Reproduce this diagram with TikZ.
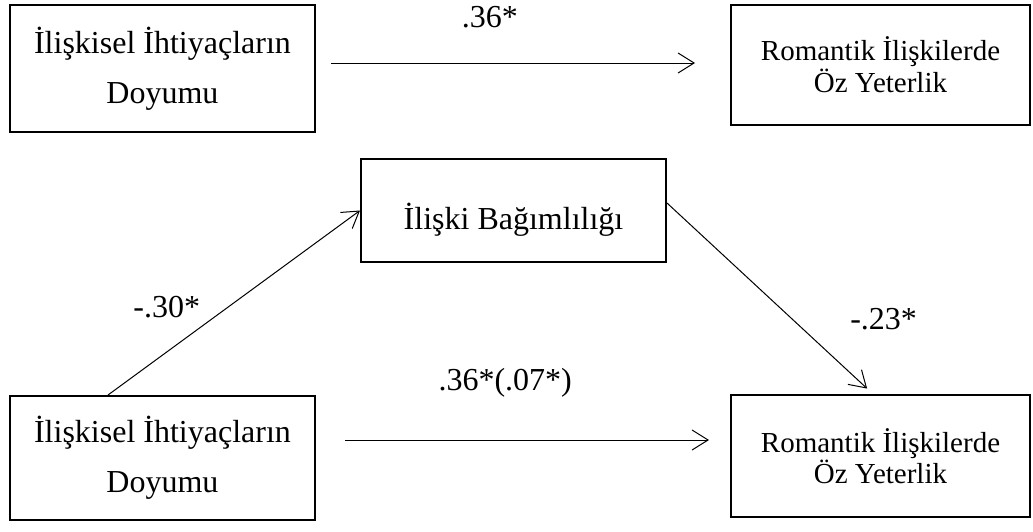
\documentclass[tikz,border=0pt]{standalone}
\usepackage{fontspec}
\setmainfont{Liberation Serif}
\usetikzlibrary{arrows.meta}

\begin{document}
\begin{tikzpicture}[x=0.5pt,y=-0.5pt,
        box/.style={draw,line width=1pt,inner sep=0pt,align=center},
        bigbox/.style={box,minimum width=152.5pt,font=\fontsize{16}{25}\selectfont,execute at begin node={\rule{0pt}{22pt}}},
        smallbox/.style={box,minimum width=149.5pt,font=\fontsize{14.5}{14}\selectfont},
        link/.style={line width=0.5pt,-{Straight Barb[length=8pt,width=10pt]}},
        coef/.style={font=\fontsize{16}{19}\selectfont}]

        % -----------
        % Parameters.
        % -----------

        % Box centres [px].
        \pgfmathsetmacro{\xLeft}{162.5}     % x-position of left boxes.
        \pgfmathsetmacro{\xMid}{513.5}      % x-position of mediator box.
        \pgfmathsetmacro{\xRight}{880.5}    % x-position of right boxes.
        \pgfmathsetmacro{\yTopLeft}{68.5}   % y-position of upper left box.
        \pgfmathsetmacro{\yTopRight}{65}    % y-position of upper right box.
        \pgfmathsetmacro{\yMid}{210.5}      % y-position of mediator box.
        \pgfmathsetmacro{\yBotLeft}{458}    % y-position of lower left box.
        \pgfmathsetmacro{\yBotRight}{456}   % y-position of lower right box.

        \useasboundingbox (0,0) rectangle (1033,531);

        % --------
        % Drawing.
        % --------

        % Total effect model.
        \node[bigbox,minimum height=63.5pt](needsTop) at (\xLeft,\yTopLeft){İlişkisel İhtiyaçların\\Doyumu};
        \node[smallbox,minimum height=60pt](efficacyTop) at (\xRight,\yTopRight){Romantik İlişkilerde\\Öz Yeterlik};

        % Mediation model.
        \node[bigbox,minimum height=51.5pt](dependence) at (\xMid,\yMid){İlişki Bağımlılığı};
        \node[bigbox,minimum height=62pt](needsBottom) at (\xLeft,\yBotLeft){İlişkisel İhtiyaçların\\Doyumu};
        \node[smallbox,minimum height=61pt](efficacyBottom) at (\xRight,\yBotRight){Romantik İlişkilerde\\Öz Yeterlik};

        % Path c.
        \coordinate (topStart) at ([yshift=2.75pt]needsTop.east);
        \draw[link,shorten <=7.5pt,shorten >=17.5pt](topStart)--(topStart -| efficacyTop.west)
            node[coef,pos=.42,yshift=23pt]{.36*};

        % Path a.
        \draw[link]([xshift=-27.25pt]needsBottom.north)--(dependence.west)
            node[coef,pos=.233,yshift=22.5pt]{-.30*};

        % Path b.
        \draw[link,shorten >=4pt]([yshift=3.75pt]dependence.east)--([xshift=-3.75pt]efficacyBottom.north)
            node[coef,pos=.61,xshift=45.5pt]{-.23*};

        % Path c'.
        \coordinate (botStart) at ([yshift=9pt]needsBottom.east);
        \draw[link,shorten <=14.5pt,shorten >=10.5pt](botStart)--(botStart -| efficacyBottom.west)
            node[coef,pos=.457,yshift=28.5pt]{.36*(.07*)};

    \end{tikzpicture}
\end{document}
